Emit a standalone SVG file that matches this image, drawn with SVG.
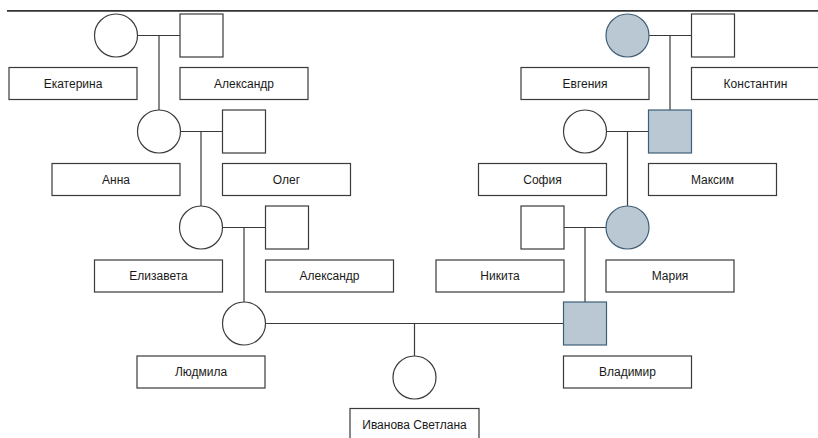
<svg xmlns="http://www.w3.org/2000/svg" width="818" height="438" viewBox="0 0 818 438">
<style>
.sh{fill:#fff;stroke:#3a3a3a;stroke-width:1.2}
.af{fill:#bac8d3;stroke:#3f5f78;stroke-width:1.2}
.lb{fill:#fff;stroke:#3a3a3a;stroke-width:1.2}
.tx{font-family:"Liberation Sans",Arial,sans-serif;font-size:12px;fill:#1a1a1a;text-anchor:middle}
.cn{stroke:#3a3a3a;stroke-width:1.2;fill:none}
</style>
<rect width="818" height="438" fill="#fff"/>
<line x1="7" y1="10.8" x2="818" y2="10.8" stroke="#333" stroke-width="1.8"/>
<g id="connectors">
<path class="cn" d="M137.5 35.5H180M159 35.5V110"/>
<path class="cn" d="M180.5 131.5H222.5M201 131.5V206"/>
<path class="cn" d="M222.5 227.5H265.5M244 227.5V302"/>
<path class="cn" d="M265.5 323.5H563.5M414.5 323.5V356"/>
<path class="cn" d="M649 35.5H691.5M670 35.5V110"/>
<path class="cn" d="M606.5 131.5H648.5M627.5 131.5V206"/>
<path class="cn" d="M564 227.5H606M585 227.5V302"/>
</g>
<g id="ekaterina"><circle class="sh" cx="116" cy="35.5" r="21.5"/><rect class="lb" x="9" y="67.5" width="128" height="32"/><text class="tx" x="73" y="87.5">Екатерина</text></g>
<g id="aleksandr1"><rect class="sh" x="180" y="14" width="43" height="43"/><rect class="lb" x="180" y="67.5" width="128" height="32"/><text class="tx" x="244" y="87.5">Александр</text></g>
<g id="evgenia"><circle class="af" cx="627.5" cy="35.5" r="21.5"/><rect class="lb" x="521" y="67.5" width="128" height="32"/><text class="tx" x="585" y="87.5">Евгения</text></g>
<g id="konstantin"><rect class="sh" x="691.5" y="14" width="43" height="43"/><rect class="lb" x="691.5" y="67.5" width="128" height="32"/><text class="tx" x="755.5" y="87.5">Константин</text></g>
<g id="anna"><circle class="sh" cx="159" cy="131.5" r="21.5"/><rect class="lb" x="52" y="163.5" width="128" height="32"/><text class="tx" x="116" y="183.5">Анна</text></g>
<g id="oleg"><rect class="sh" x="222.5" y="110" width="43" height="43"/><rect class="lb" x="222.5" y="163.5" width="128" height="32"/><text class="tx" x="286.5" y="183.5">Олег</text></g>
<g id="sofia"><circle class="sh" cx="585" cy="131.5" r="21.5"/><rect class="lb" x="478.5" y="163.5" width="128" height="32"/><text class="tx" x="542.5" y="183.5">София</text></g>
<g id="maksim"><rect class="af" x="648.5" y="110" width="43" height="43"/><rect class="lb" x="648.5" y="163.5" width="128" height="32"/><text class="tx" x="712.5" y="183.5">Максим</text></g>
<g id="elizaveta"><circle class="sh" cx="201" cy="227.5" r="21.5"/><rect class="lb" x="94.5" y="260" width="128" height="32"/><text class="tx" x="158.5" y="280">Елизавета</text></g>
<g id="aleksandr2"><rect class="sh" x="265.5" y="206" width="43" height="43"/><rect class="lb" x="265.5" y="260" width="128" height="32"/><text class="tx" x="329.5" y="280">Александр</text></g>
<g id="nikita"><rect class="sh" x="521" y="206" width="43" height="43"/><rect class="lb" x="436" y="260" width="128" height="32"/><text class="tx" x="500" y="280">Никита</text></g>
<g id="maria"><circle class="af" cx="627.5" cy="227.5" r="21.5"/><rect class="lb" x="606" y="260" width="128" height="32"/><text class="tx" x="670" y="280">Мария</text></g>
<g id="ludmila"><circle class="sh" cx="244" cy="323.5" r="21.5"/><rect class="lb" x="137" y="356" width="128" height="32"/><text class="tx" x="201" y="376">Людмила</text></g>
<g id="vladimir"><rect class="af" x="563.5" y="302" width="43" height="43"/><rect class="lb" x="563.5" y="356" width="128" height="32"/><text class="tx" x="627.5" y="376">Владимир</text></g>
<g id="svetlana"><circle class="sh" cx="414.5" cy="377.5" r="21.5"/><rect class="lb" x="350" y="408.5" width="129" height="32"/><text class="tx" x="414.5" y="428.5">Иванова Светлана</text></g>
</svg>
